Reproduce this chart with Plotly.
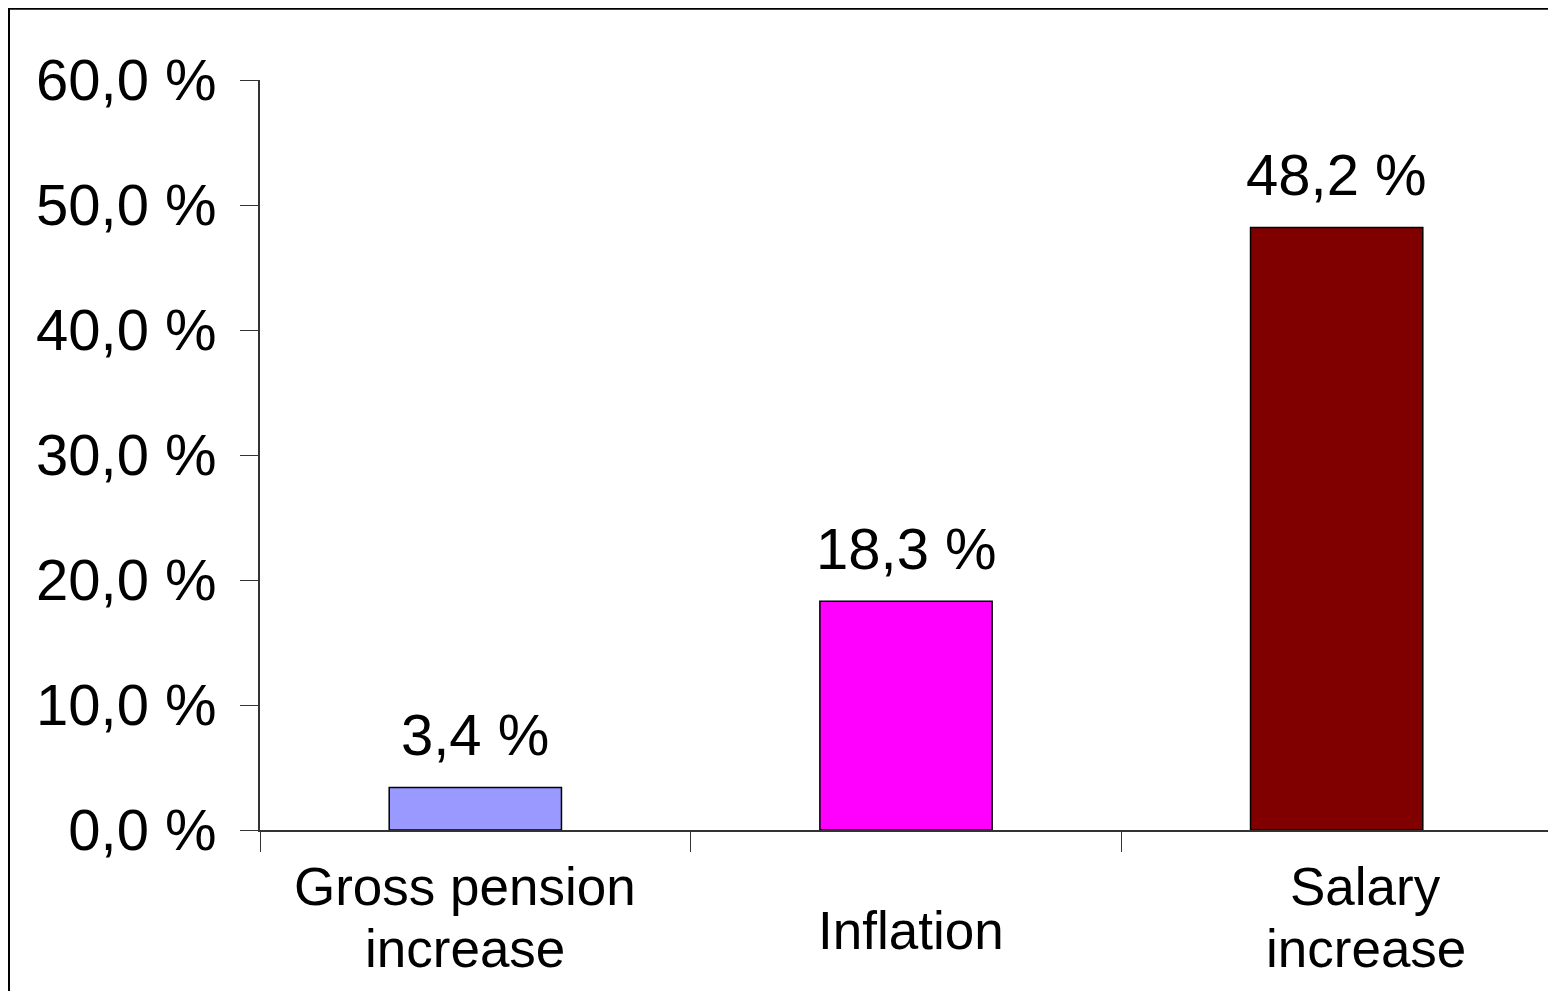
import plotly.graph_objects as go

categories = ["Gross pension increase", "Inflation", "Salary increase"]
label_lines = [["Gross pension", "increase"], ["Inflation"], ["Salary", "increase"]]
values = [3.4, 18.3, 48.2]
value_labels = ["3,4 %", "18,3 %", "48,2 %"]
colors = ["#9999FF", "#FF00FF", "#800000"]
y_ticks = [0, 10, 20, 30, 40, 50, 60]
y_ticktext = ["0,0 %", "10,0 %", "20,0 %", "30,0 %", "40,0 %", "50,0 %", "60,0 %"]

OFF = 8  # page body margin in the browser
W, H = 1556 - OFF, 991 - OFF
L, R, T, B = 252, 4, 72, 161
pw, ph = W - L - R, H - T - B

def px_x(x):  # x in screenshot pixels -> paper
    return (x - OFF - L) / pw

def px_y(y):  # y in screenshot pixels -> paper
    return (H - B - (y - OFF)) / ph

FONT = "Liberation Sans, Arial, sans-serif"

fig = go.Figure()
fig.add_trace(go.Bar(
    x=categories, y=values, width=0.4,
    marker=dict(color=colors, line=dict(color="black", width=1.5)),
    hoverinfo="skip", showlegend=False,
))

annotations = []
for c, v, t in zip(categories, values, value_labels):
    annotations.append(dict(x=c, y=v, xref="x", yref="y", text=t, showarrow=False,
                            yanchor="middle", yshift=53,
                            font=dict(family=FONT, size=58, color="black")))

label_shift = [-10, 5, 29]
line_centers = [[886, 948], [930], [886, 948]]
for c, lines, s, ys in zip(categories, label_lines, label_shift, line_centers):
    for t, ly in zip(lines, ys):
        annotations.append(dict(x=c, y=px_y(ly), xref="x", yref="paper", text=t, showarrow=False,
                                yanchor="middle", xshift=s, align="center",
                                font=dict(family=FONT, size=53, color="black")))

fig.update_layout(
    width=W, height=H,
    margin=dict(l=L, r=R, t=T, b=B, pad=0),
    paper_bgcolor="white", plot_bgcolor="white",
    annotations=annotations,
    shapes=[
        dict(type="line", xref="paper", yref="paper",
             x0=px_x(9), x1=px_x(1560), y0=px_y(8.5), y1=px_y(8.5),
             line=dict(color="black", width=2.5)),
        dict(type="line", xref="paper", yref="paper",
             x0=px_x(9), x1=px_x(9), y0=px_y(8), y1=px_y(995),
             line=dict(color="black", width=2)),
    ],
)

fig.update_xaxes(
    type="category", range=[-0.5, 2.5],
    showticklabels=False, tickson="boundaries",
    ticks="outside", ticklen=20, tickcolor="#333333", tickwidth=1.2,
    showline=True, linecolor="#333333", linewidth=1.5,
    showgrid=False, zeroline=False, fixedrange=True,
)
fig.update_yaxes(
    range=[0, 60], tickvals=y_ticks, ticktext=y_ticktext,
    ticks="outside", ticklen=18, tickcolor="#333333", tickwidth=1.2,
    showline=True, linecolor="#333333", linewidth=1.5,
    showgrid=False, zeroline=False, ticklabelstandoff=12,
    tickfont=dict(family=FONT, size=58, color="black"), fixedrange=True,
)

fig.write_html("out.html")
